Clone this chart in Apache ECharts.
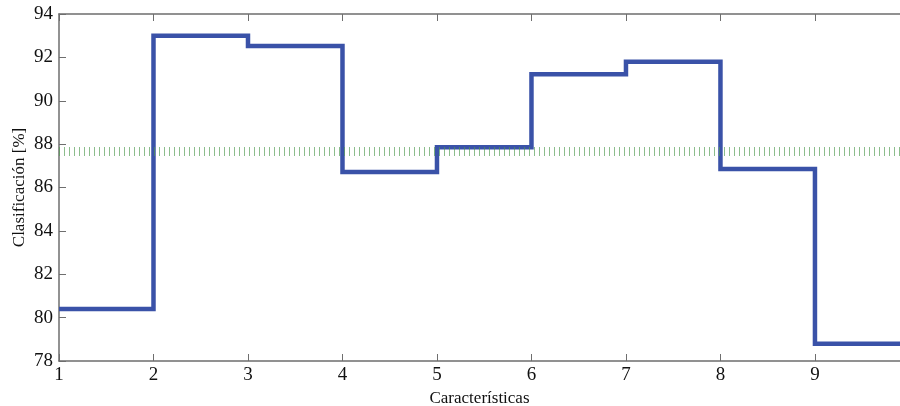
<!DOCTYPE html>
<html>
<head>
<meta charset="utf-8">
<script src="https://cdn.jsdelivr.net/npm/echarts@6/dist/echarts.min.js"></script>
<style>
  html, body { margin: 0; padding: 0; background: #fff; }
  #container { width: 900px; height: 406px; }
</style>
</head>
<body>
<div id="container"></div>
<script>
// number of features used vs. classification rate
const features = [1, 2, 3, 4, 5, 6, 7, 8, 9, 10];
const accuracy = [80.4, 93.0, 92.53, 86.72, 87.86, 91.22, 91.8, 86.85, 78.8, 78.8];
const baseline = 87.65;
const yTicks = [78, 80, 82, 84, 86, 88, 90, 92, 94];

const dom = document.getElementById('container');
const chart = echarts.init(dom);

const font = 'Liberation Serif';
const axisGrey = '#6e6e6e';

chart.setOption({
  animation: false,
  grid: { left: 59, right: 0, top: 14, bottom: 45, outerBoundsMode: 'none', containLabel: false },
  xAxis: [{
    type: 'value',
    min: 1, max: 9.9, interval: 1,
    name: 'Características',
    nameLocation: 'middle',
    nameGap: 25,
    nameTextStyle: { fontFamily: font, fontSize: 17, color: '#111' },
    axisLine: { lineStyle: { color: axisGrey, width: 1.5 } },
    axisTick: { inside: true, length: 7, lineStyle: { color: axisGrey } },
    axisLabel: {
      fontFamily: font, fontSize: 19, color: '#111', margin: 5,
      showMaxLabel: false,
      formatter: v => (Number.isInteger(v) ? String(v) : '')
    },
    splitLine: { show: false }
  }, {
    type: 'value',
    position: 'top',
    min: 1, max: 9.9, interval: 1,
    axisLine: { lineStyle: { color: axisGrey, width: 1.5 } },
    axisTick: { inside: true, length: 7, lineStyle: { color: axisGrey } },
    axisLabel: { show: false },
    splitLine: { show: false }
  }],
  yAxis: {
    type: 'value',
    min: yTicks[0], max: yTicks[yTicks.length - 1], interval: 2,
    name: 'Clasificación [%]',
    nameLocation: 'middle',
    nameGap: 31,
    nameMoveOverlap: false,
    nameTextStyle: { fontFamily: font, fontSize: 17, color: '#111' },
    axisLine: { show: true, lineStyle: { color: axisGrey, width: 1.5 } },
    axisTick: { show: true, inside: true, length: 7, lineStyle: { color: axisGrey } },
    axisLabel: { fontFamily: font, fontSize: 19, color: '#111', margin: 6 },
    splitLine: { show: false }
  },
  series: [{
    type: 'line',
    step: 'end',
    xAxisIndex: 0,
    data: features.map((f, i) => [f, accuracy[i]]),
    showSymbol: false,
    lineStyle: { color: '#3a52a8', width: 4.5, join: 'miter' },
    markLine: {
      silent: true,
      symbol: 'none',
      label: { show: false },
      lineStyle: { color: '#4f9a4f', width: 9, type: [1, 4], opacity: 0.65 },
      data: [{ yAxis: baseline }]
    },
    z: 3
  }]
});
</script>
</body>
</html>
